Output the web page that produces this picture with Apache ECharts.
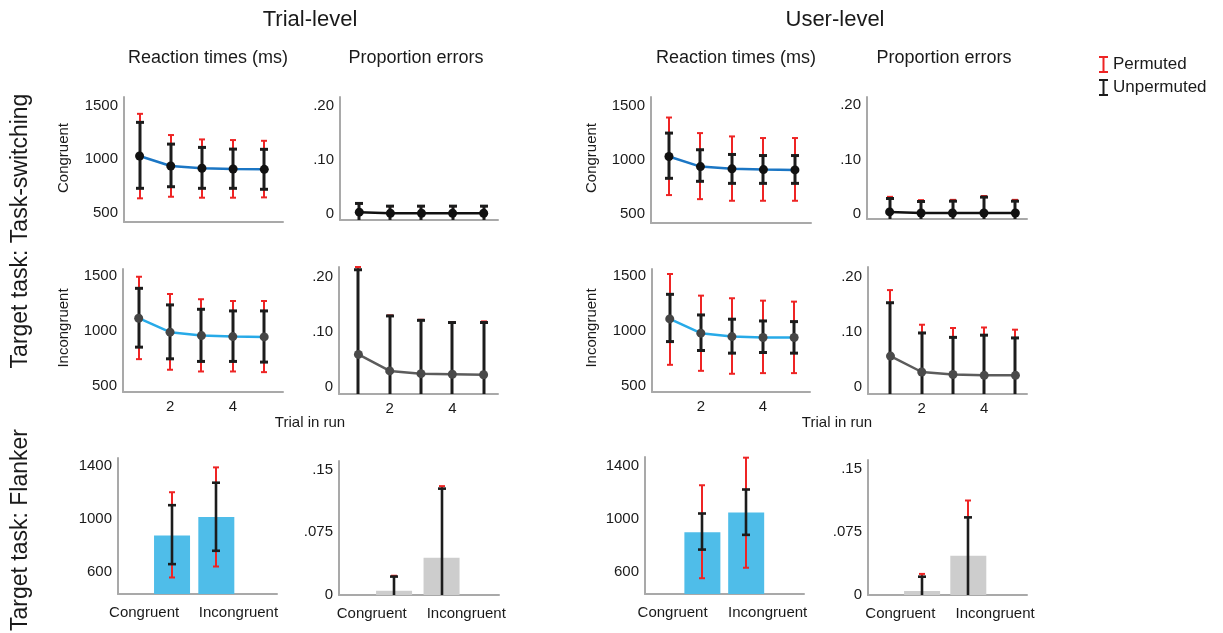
<!DOCTYPE html>
<html>
<head>
<meta charset="utf-8">
<title>Trial-level vs User-level</title>
<script src="https://cdn.jsdelivr.net/npm/echarts@6/dist/echarts.min.js"></script>
<style>
    html, body { margin: 0; padding: 0; background: #fff; }
    #main { width: 1223px; height: 633px; }
</style>
</head>
<body>
<div id="main"></div>
<script>
// ==============================================================
// data
// ==============================================================
var trials = [1, 2, 3, 4, 5];
var conditions = [1, 2];
var conditionNames = ['Congruent', 'Incongruent'];

var rtLineTicks = [500, 1000, 1500];
var peLineTicks = [0, 0.1, 0.2];
var peLineTickLabels = ['0', '.10', '.20'];
var rtBarTicks = [600, 1000, 1400];
var peBarTicks = [0, 0.075, 0.15];
var peBarTickLabels = ['0', '.075', '.15'];
var trialTicks = [2, 4];

// trial-level, task-switching
var trialRtCongMean = [1031, 937, 916, 909, 906];
var trialRtCongUnpLo = [728, 743, 728, 728, 719];
var trialRtCongUnpHi = [1347, 1143, 1112, 1096, 1094];
var trialRtCongPermLo = [634, 649, 640, 640, 643];
var trialRtCongPermHi = [1427, 1228, 1187, 1181, 1174];

var trialPeCongMean = [0.004, 0.002, 0.002, 0.002, 0.002];
var trialPeCongUnpLo = [-0.012, -0.011, -0.011, -0.011, -0.011];
var trialPeCongUnpHi = [0.020, 0.015, 0.015, 0.015, 0.015];
var trialPeCongPermLo = [-0.012, -0.011, -0.011, -0.011, -0.011];
var trialPeCongPermHi = [0.020, 0.015, 0.015, 0.015, 0.015];

var trialRtIncMean = [1116, 988, 957, 948, 945];
var trialRtIncUnpLo = [851, 744, 720, 720, 714];
var trialRtIncUnpHi = [1390, 1238, 1198, 1183, 1183];
var trialRtIncPermLo = [741, 644, 628, 628, 622];
var trialRtIncPermHi = [1496, 1338, 1290, 1274, 1274];

var trialPeIncMean = [0.059, 0.029, 0.024, 0.023, 0.022];
var trialPeIncUnpLo = [-0.095, -0.071, -0.073, -0.071, -0.073];
var trialPeIncUnpHi = [0.213, 0.129, 0.121, 0.117, 0.117];
var trialPeIncPermLo = [-0.100, -0.072, -0.074, -0.072, -0.075];
var trialPeIncPermHi = [0.218, 0.130, 0.122, 0.118, 0.119];

// user-level, task-switching
var userRtCongMean = [1031, 937, 916, 909, 906];
var userRtCongUnpLo = [828, 800, 781, 781, 781];
var userRtCongUnpHi = [1249, 1094, 1050, 1040, 1040];
var userRtCongPermLo = [672, 634, 619, 619, 619];
var userRtCongPermHi = [1394, 1249, 1218, 1203, 1203];

var userPeCongMean = [0.004, 0.002, 0.002, 0.002, 0.002];
var userPeCongUnpLo = [-0.020, -0.019, -0.020, -0.027, -0.020];
var userPeCongUnpHi = [0.0285, 0.023, 0.0236, 0.031, 0.0236];
var userPeCongPermLo = [-0.024, -0.022, -0.022, -0.029, -0.022];
var userPeCongPermHi = [0.0315, 0.0255, 0.026, 0.033, 0.026];

var userRtIncMean = [1110, 979, 948, 939, 939];
var userRtIncUnpLo = [902, 820, 796, 802, 796];
var userRtIncUnpHi = [1335, 1146, 1107, 1091, 1085];
var userRtIncPermLo = [689, 634, 607, 613, 613];
var userRtIncPermHi = [1521, 1323, 1299, 1277, 1268];

var userPeIncMean = [0.056, 0.027, 0.0225, 0.021, 0.021];
var userPeIncUnpLo = [-0.041, -0.044, -0.045, -0.052, -0.047];
var userPeIncUnpHi = [0.153, 0.098, 0.090, 0.094, 0.089];
var userPeIncPermLo = [-0.064, -0.059, -0.062, -0.066, -0.062];
var userPeIncPermHi = [0.176, 0.113, 0.107, 0.108, 0.104];

// flanker
var trialFlkRtMean = [876, 1017];
var trialFlkRtUnpLo = [660, 761];
var trialFlkRtUnpHi = [1106, 1276];
var trialFlkRtPermLo = [559, 642];
var trialFlkRtPermHi = [1204, 1392];

var trialFlkPeMean = [0.005, 0.0445];
var trialFlkPeUnpLo = [-0.012, -0.038];
var trialFlkPeUnpHi = [0.022, 0.127];
var trialFlkPePermLo = [-0.012, -0.038];
var trialFlkPePermHi = [0.023, 0.130];

var userFlkRtMean = [900, 1049];
var userFlkRtUnpLo = [770, 881];
var userFlkRtUnpHi = [1042, 1223];
var userFlkRtPermLo = [554, 633];
var userFlkRtPermHi = [1255, 1463];

var userFlkPeMean = [0.0047, 0.0466];
var userFlkPeUnpLo = [-0.012, -0.019];
var userFlkPeUnpHi = [0.0217, 0.092];
var userFlkPePermLo = [-0.012, -0.019];
var userFlkPePermHi = [0.025, 0.112];

// ==============================================================
// styles
// ==============================================================
var FONT = 'Liberation Sans, Arial, Helvetica, sans-serif';
var TEXT = '#1a1a1a';
var AXIS = '#a9a9a9';
var RED = '#ee2424';
var BLACK = '#1c1c1c';

function rows(xs, a, b) {
    return xs.map(function (x, i) { return b ? [x, a[i], b[i]] : [x, a[i]]; });
}

// error bar drawn through the grid's own scales
function errorBar(color, width, cap) {
    return function (params, api) {
        var cs = params.coordSys;
        var x = api.value(0);
        var lo = api.coord([x, api.value(1)]);
        var hi = api.coord([x, api.value(2)]);
        var cx = Math.round(lo[0]);   // same pixel column for red and black
        var top = cs.y, bottom = cs.y + cs.height;
        var style = { stroke: color, lineWidth: width };
        var y1 = Math.min(lo[1], bottom), y2 = Math.max(hi[1], top);
        var kids = [{ type: 'line', shape: { x1: cx, y1: y1, x2: cx, y2: y2 }, style: style }];
        if (hi[1] >= top) kids.push({ type: 'line', shape: { x1: cx - cap, y1: hi[1], x2: cx + cap, y2: hi[1] }, style: style });
        if (lo[1] <= bottom) kids.push({ type: 'line', shape: { x1: cx - cap, y1: lo[1], x2: cx + cap, y2: lo[1] }, style: style });
        return { type: 'group', children: kids };
    };
}

// ==============================================================
// panels: layout + which arrays they draw
// ==============================================================
var panels = [
    { box: [124, 97, 159, 125], x: [0.5, 5.6], y: [412, 1585], yt: rtLineTicks, kind: 'line', line: '#1b76c4', dot: '#111',
      d: [trialRtCongMean, trialRtCongUnpLo, trialRtCongUnpHi, trialRtCongPermLo, trialRtCongPermHi] },
    { box: [340, 97, 158, 123], x: [0.38, 5.46], y: [-0.0105, 0.216], yt: peLineTicks, yl: peLineTickLabels, kind: 'line', line: '#111', dot: '#111',
      d: [trialPeCongMean, trialPeCongUnpLo, trialPeCongUnpHi, trialPeCongPermLo, trialPeCongPermHi] },
    { box: [123, 269, 160, 123], x: [0.5, 5.6], y: [440, 1567], yt: rtLineTicks, xt: trialTicks, kind: 'line', line: '#27aae8', dot: '#454545',
      d: [trialRtIncMean, trialRtIncUnpLo, trialRtIncUnpHi, trialRtIncPermLo, trialRtIncPermHi] },
    { box: [339, 267, 159, 127], x: [0.38, 5.46], y: [-0.013, 0.218], yt: peLineTicks, yl: peLineTickLabels, xt: trialTicks, kind: 'line', line: '#5c5c5c', dot: '#4a4a4a',
      d: [trialPeIncMean, trialPeIncUnpLo, trialPeIncUnpHi, trialPeIncPermLo, trialPeIncPermHi] },
    { box: [118, 458, 159, 136], x: [-0.22, 3.37], y: [434, 1463], yt: rtBarTicks, xAt: [0.37, 2.5], kind: 'bar', fill: '#4fbde9',
      d: [trialFlkRtMean, trialFlkRtUnpLo, trialFlkRtUnpHi, trialFlkRtPermLo, trialFlkRtPermHi] },
    { box: [339, 461, 160, 134], x: [-0.16, 3.21], y: [0, 0.16], yt: peBarTicks, yl: peBarTickLabels, xAt: [0.53, 2.52], kind: 'bar', fill: '#cdcdcd',
      d: [trialFlkPeMean, trialFlkPeUnpLo, trialFlkPeUnpHi, trialFlkPePermLo, trialFlkPePermHi] },

    { box: [651, 97, 160, 126], x: [0.43, 5.51], y: [412, 1585], yt: rtLineTicks, kind: 'line', line: '#1b76c4', dot: '#111',
      d: [userRtCongMean, userRtCongUnpLo, userRtCongUnpHi, userRtCongPermLo, userRtCongPermHi] },
    { box: [867, 97, 160, 122], x: [0.28, 5.37], y: [-0.009, 0.214], yt: peLineTicks, yl: peLineTickLabels, kind: 'line', line: '#111', dot: '#111',
      d: [userPeCongMean, userPeCongUnpLo, userPeCongUnpHi, userPeCongPermLo, userPeCongPermHi] },
    { box: [652, 269, 158, 123], x: [0.43, 5.51], y: [440, 1567], yt: rtLineTicks, xt: trialTicks, kind: 'line', line: '#27aae8', dot: '#454545',
      d: [userRtIncMean, userRtIncUnpLo, userRtIncUnpHi, userRtIncPermLo, userRtIncPermHi] },
    { box: [868, 267, 159, 127], x: [0.28, 5.37], y: [-0.013, 0.218], yt: peLineTicks, yl: peLineTickLabels, xt: trialTicks, kind: 'line', line: '#5c5c5c', dot: '#4a4a4a',
      d: [userPeIncMean, userPeIncUnpLo, userPeIncUnpHi, userPeIncPermLo, userPeIncPermHi] },
    { box: [645, 457, 159, 137], x: [-0.31, 3.32], y: [435, 1468], yt: rtBarTicks, xAt: [0.32, 2.49], kind: 'bar', fill: '#4fbde9',
      d: [userFlkRtMean, userFlkRtUnpLo, userFlkRtUnpHi, userFlkRtPermLo, userFlkRtPermHi] },
    { box: [868, 460, 159, 135], x: [-0.17, 3.27], y: [0, 0.16], yt: peBarTicks, yl: peBarTickLabels, xAt: [0.53, 2.58], kind: 'bar', fill: '#cdcdcd',
      d: [userFlkPeMean, userFlkPeUnpLo, userFlkPeUnpHi, userFlkPePermLo, userFlkPePermHi] }
];

var grids = [], xAxes = [], yAxes = [], series = [];
var labelStyle = { color: TEXT, fontSize: 15, fontFamily: FONT };

panels.forEach(function (p, i) {
    grids.push({ left: p.box[0], top: p.box[1], width: p.box[2], height: p.box[3], containLabel: false });

    var xLabel = { show: false };
    if (p.xt) {
        xLabel = Object.assign({ show: true, margin: 7, customValues: p.xt }, labelStyle);
    } else if (p.xAt) {
        xLabel = Object.assign({ show: true, margin: 11, customValues: p.xAt,
            formatter: function (v) { return v < 1.5 ? conditionNames[0] : conditionNames[1]; } }, labelStyle);
    }
    xAxes.push({
        type: 'value', gridIndex: i, min: p.x[0], max: p.x[1],
        axisLine: { show: true, onZero: false, lineStyle: { color: AXIS, width: 2 } },
        axisTick: { show: false }, splitLine: { show: false }, axisLabel: xLabel
    });
    yAxes.push({
        type: 'value', gridIndex: i, min: p.y[0], max: p.y[1],
        axisLine: { show: true, onZero: false, lineStyle: { color: AXIS, width: 2 } },
        axisTick: { show: false }, splitLine: { show: false },
        axisLabel: Object.assign({ margin: 6, customValues: p.yt,
            formatter: function (v) {
                if (!p.yl) return String(v);
                var k = p.yt.indexOf(v);
                return k >= 0 ? p.yl[k] : String(v);
            } }, labelStyle)
    });

    var xs = p.kind === 'line' ? trials : conditions;
    var thick = p.kind === 'line' ? 3 : 2.6;

    if (p.kind === 'bar') {
        series.push({
            type: 'bar', xAxisIndex: i, yAxisIndex: i, barWidth: 36, clip: true, silent: true,
            itemStyle: { color: p.fill }, data: rows(xs, p.d[0]), z: 1
        });
    }
    series.push({
        name: 'Permuted', type: 'custom', xAxisIndex: i, yAxisIndex: i, silent: true,
        itemStyle: { color: RED }, renderItem: errorBar(RED, 2, 3),
        encode: { x: 0, y: [1, 2] }, data: rows(xs, p.d[3], p.d[4]), z: 2
    });
    series.push({
        name: 'Unpermuted', type: 'custom', xAxisIndex: i, yAxisIndex: i, silent: true,
        itemStyle: { color: BLACK }, renderItem: errorBar(BLACK, thick, 4),
        encode: { x: 0, y: [1, 2] }, data: rows(xs, p.d[1], p.d[2]), z: 3
    });
    if (p.kind === 'line') {
        series.push({
            type: 'line', xAxisIndex: i, yAxisIndex: i, silent: true,
            symbol: 'circle', symbolSize: 9, showAllSymbol: true,
            lineStyle: { color: p.line, width: 2.5 }, itemStyle: { color: p.dot },
            data: rows(xs, p.d[0]), z: 4
        });
    }
});

function txt(s, x, y, size, rot) {
    return { type: 'text', x: x, y: y, rotation: rot || 0, silent: true,
        style: { text: s, fill: TEXT, font: size + 'px ' + FONT, textAlign: 'center', textVerticalAlign: 'middle' } };
}

var graphics = [
    txt('Trial-level', 310, 20, 22),
    txt('User-level', 835, 20, 22),
    txt('Reaction times (ms)', 208, 58, 18),
    txt('Proportion errors', 416, 58, 18),
    txt('Reaction times (ms)', 736, 58, 18),
    txt('Proportion errors', 944, 58, 18),
    txt('Target task: Task-switching', 21, 231, 23, Math.PI / 2),
    txt('Target task: Flanker', 21, 530, 23, Math.PI / 2),
    txt('Congruent', 64, 158, 15, Math.PI / 2),
    txt('Incongruent', 64, 328, 15, Math.PI / 2),
    txt('Congruent', 592, 158, 15, Math.PI / 2),
    txt('Incongruent', 592, 328, 15, Math.PI / 2),
    txt('Trial in run', 310, 423, 15),
    txt('Trial in run', 837, 423, 15)
];

var chart = echarts.init(document.getElementById('main'), null, { renderer: 'canvas' });
var option = {
    animation: false,
    backgroundColor: '#fff',
    legend: {
        data: ['Permuted', 'Unpermuted'],
        orient: 'vertical', left: 1094, top: 51, itemGap: 6,
        itemWidth: 9, itemHeight: 17, selectedMode: false,
        icon: 'path://M0,0L9,0L9,2L5.5,2L5.5,15L9,15L9,17L0,17L0,15L3.5,15L3.5,2L0,2Z',
        textStyle: { color: TEXT, fontSize: 17, fontFamily: FONT }
    },
    grid: grids,
    xAxis: xAxes,
    yAxis: yAxes,
    series: series,
    graphic: graphics
};
chart.setOption(option, true);
window.addEventListener('resize', function () { chart.resize(); });
</script>
</body>
</html>
